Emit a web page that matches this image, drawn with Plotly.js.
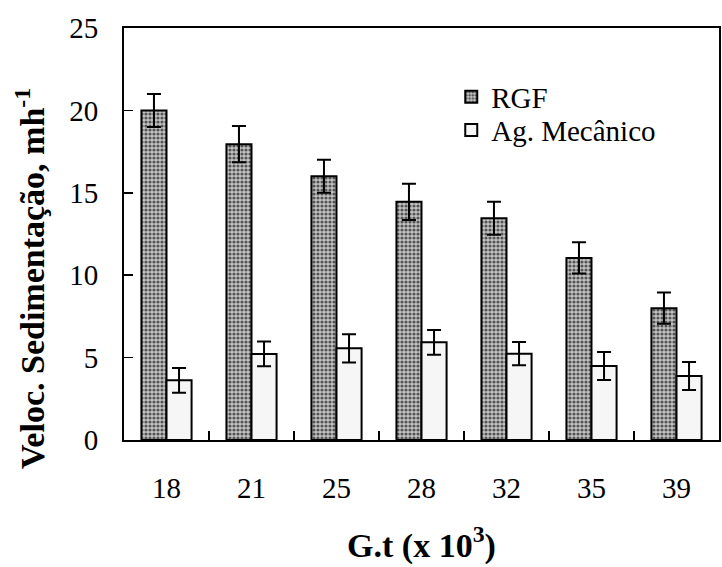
<!DOCTYPE html>
<html>
<head>
<meta charset="utf-8">
<script src="https://cdn.plot.ly/plotly-3.0.1.min.js"></script>
<style>html,body{margin:0;padding:0;background:#fff;}#chart{width:722px;height:567px;}</style>
</head>
<body>
<div id="chart"></div>
<script>
const categories = ["18", "21", "25", "28", "32", "35", "39"];
const rgfValues = [20.0, 17.95, 16.0, 14.45, 13.45, 11.05, 8.0];
const rgfErrors = [1.0, 1.1, 1.0, 1.1, 1.0, 0.95, 0.95];
const mecValues = [3.62, 5.22, 5.56, 5.93, 5.24, 4.49, 3.88];
const mecErrors = [0.75, 0.75, 0.85, 0.75, 0.7, 0.85, 0.85];
const seriesNames = ["RGF", "Ag. Mecânico"];
const xTitle = "G.t (x 10<sup>3</sup>)";
const yTitle = "Veloc. Sedimentação, mh<sup>-1</sup>";

const serif = "Liberation Serif, Times New Roman, serif";

const traces = [
  {
    type: "bar", name: seriesNames[0], x: categories, y: rgfValues, legend: "legend",
    marker: {
      color: "#b0b0b0",
      line: {color: "#000", width: 2},
      pattern: {shape: ".", size: 4, solidity: 0.5, fgcolor: "#555", bgcolor: "#c4c4c4"}
    },
    error_y: {type: "data", array: rgfErrors, visible: true, color: "#000", thickness: 2, width: 7}
  },
  {
    type: "bar", name: seriesNames[1], x: categories, y: mecValues, legend: "legend2",
    marker: {
      color: "#f6f6f6",
      line: {color: "#000", width: 2}
    },
    error_y: {type: "data", array: mecErrors, visible: true, color: "#000", thickness: 2, width: 7}
  }
];

const legendFont = {family: serif, size: 29, color: "#000"};

const layout = {
  width: 722, height: 567,
  margin: {l: 124, r: 3, t: 28, b: 127},
  paper_bgcolor: "#fff", plot_bgcolor: "#fff",
  font: {family: serif, color: "#000", size: 29},
  barmode: "group", bargap: 0.41, bargroupgap: 0,
  showlegend: true,
  legend: {x: 0.55, y: 0.8325, xanchor: "left", yanchor: "middle", bgcolor: "rgba(0,0,0,0)",
           font: legendFont, itemwidth: 30},
  legend2: {x: 0.55, y: 0.752, xanchor: "left", yanchor: "middle", bgcolor: "rgba(0,0,0,0)",
           font: legendFont, itemwidth: 30},
  xaxis: {
    type: "category", showline: true, linecolor: "#000", linewidth: 2, mirror: true,
    ticks: "inside", ticklen: 9, tickwidth: 1.5, tickcolor: "#000", tickson: "boundaries",
    ticklabelstandoff: 21, showgrid: false, zeroline: false,
    tickfont: {family: serif, size: 29, color: "#000"},
    title: {text: "<b>" + xTitle + "</b>", font: {family: serif, size: 34, color: "#000"}, standoff: 30}
  },
  yaxis: {
    range: [0, 25], dtick: 5, showline: true, linecolor: "#000", linewidth: 2, mirror: true,
    ticks: "inside", ticklen: 9, tickwidth: 1.5, tickcolor: "#000",
    ticklabelstandoff: 18, showgrid: false, zeroline: false,
    tickfont: {family: serif, size: 29, color: "#000"}
  },
  annotations: [{
    text: "<b>" + yTitle + "</b>", xref: "paper", yref: "paper",
    x: -0.158, y: 0.393, xanchor: "center", yanchor: "middle", textangle: -90,
    showarrow: false, font: {family: serif, size: 34, color: "#000"}
  }]
};

Plotly.newPlot("chart", traces, layout, {displayModeBar: false, staticPlot: true});
</script>
</body>
</html>
